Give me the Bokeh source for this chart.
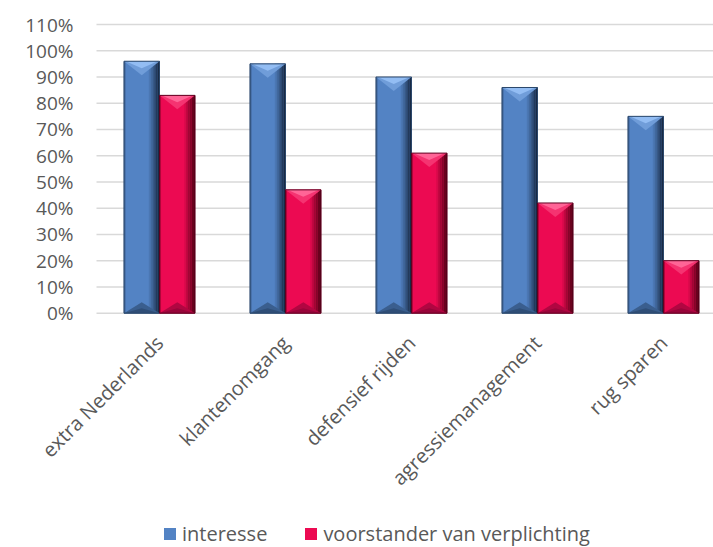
import math
from bokeh.plotting import figure
from bokeh.models import ColumnDataSource, Range1d, Legend, LegendItem
from bokeh.core.properties import value
from bokeh.embed import file_html
from bokeh.resources import INLINE

# ---------------- data ----------------
categories = ["extra Nederlands", "klantenomgang", "defensief rijden",
              "agressiemanagement", "rug sparen"]
interesse = [96, 95, 90, 86, 75]
voorstander = [83, 47, 61, 42, 20]
series_names = ["interesse", "voorstander van verplichting"]
y_ticks = [0, 10, 20, 30, 40, 50, 60, 70, 80, 90, 100, 110]
y_tick_labels = ["0%", "10%", "20%", "30%", "40%", "50%", "60%",
                 "70%", "80%", "90%", "100%", "110%"]

# ---------------- styling ----------------
FONT = "Open Sans"
TXT = "#595959"
GRID = "#D9D9D9"

def hex2rgb(h):
    h = h.lstrip("#")
    return tuple(int(h[i:i + 2], 16) for i in (0, 2, 4))

def blend(c1, c2, t):
    a, b = hex2rgb(c1), hex2rgb(c2)
    return "#%02x%02x%02x" % tuple(int(round(a[i] + (b[i] - a[i]) * t)) for i in range(3))

styles = [
    dict(face="#5383C4", dark="#14233A", top="#93BDF3", bottom="#2F4E77", outline="#2B476B"),
    dict(face="#EC0A52", dark="#40000E", top="#FF6597", bottom="#98053A", outline="#600020"),
]

# pixel geometry of the plotting area (whole canvas is the frame)
W, H = 713, 547
PLOT_LEFT = 96.0
ZERO_Y = 312.7
TOP_Y = 24.0
PX_PER_UNIT = (ZERO_Y - TOP_Y) / 110.0
CAT_PX = 126.0

x_start = -PLOT_LEFT / CAT_PX
x_end = (W - PLOT_LEFT) / CAT_PX
y_end = 110 + TOP_Y / PX_PER_UNIT
y_start = 110 - (H - TOP_Y) / PX_PER_UNIT

n = len(categories)
xc = [i + 0.5 for i in range(n)]
HW = 0.141          # half bar width (category units)
DT = 5.3            # top bevel depth (value units)
DB = 4.2            # bottom bevel depth (value units)

p = figure(width=W, height=H, output_backend="svg", toolbar_location=None,
           x_range=Range1d(x_start, x_end), y_range=Range1d(y_start, y_end),
           x_axis_location=None, y_axis_location=None,
           min_border_left=0, min_border_right=0, min_border_top=0,
           min_border_bottom=0)
p.outline_line_color = None
p.background_fill_color = "white"
p.border_fill_color = "white"
p.xgrid.grid_line_color = None
p.ygrid.grid_line_color = None

# horizontal gridlines (0% line doubles as category axis line)
p.segment(x0=[0] * len(y_ticks), x1=[x_end] * len(y_ticks), y0=y_ticks, y1=y_ticks,
          line_color=GRID, line_width=1.5)

# value labels
p.text(x=[-23 / CAT_PX] * len(y_ticks), y=y_ticks, text=y_tick_labels,
       text_align="right", text_baseline="middle",
       text_font=value(FONT), text_font_size="19px", text_color=TXT)

# category labels, rotated 45 degrees, ending under each category
lab_dx = 0 / CAT_PX
lab_dy = -26 / PX_PER_UNIT
p.text(x=[c + lab_dx for c in xc], y=[lab_dy] * n, text=categories,
       angle=math.pi / 4, text_align="right", text_baseline="middle",
       text_font=value(FONT), text_font_size="20px", text_color=TXT)

main_renderers = []
for s_idx, (vals, st) in enumerate(zip([interesse, voorstander], styles)):
    off = -HW if s_idx == 0 else HW
    centers = [c + off for c in xc]
    src = ColumnDataSource(dict(x=centers, top=vals))
    r = p.vbar(x="x", top="top", bottom=0, width=2 * HW, source=src,
               fill_color=st["face"], line_color=None)
    main_renderers.append(r)

    # right side shading strips
    nstrip = 6
    strip_w = (2 * HW) * 0.30 / nstrip
    for k in range(nstrip):
        t = 0.12 + 0.8 * (k / (nstrip - 1))
        xs_k = [c + HW - (nstrip - k - 0.5) * strip_w for c in centers]
        p.vbar(x=xs_k, top=vals, bottom=0, width=strip_w * 1.02,
               fill_color=blend(st["face"], st["dark"], t), line_color=None)
    # left thin strip
    p.vbar(x=[c - HW + 0.006 for c in centers], top=vals, bottom=0, width=0.012,
           fill_color=blend(st["face"], st["dark"], 0.35), line_color=None)

    # top bevel (two layers to mimic gradient)
    top_xs = [[c - HW, c + HW, c] for c in centers]
    top_ys = [[v, v, v - DT] for v in vals]
    p.patches(top_xs, top_ys, fill_color=blend(st["face"], st["top"], 0.45), line_color=None)
    top_ys2 = [[v, v, v - DT * 0.5] for v in vals]
    top_xs2 = [[c - HW * 0.9, c + HW * 0.9, c] for c in centers]
    p.patches(top_xs2, top_ys2, fill_color=st["top"], line_color=None)

    # bottom bevel
    bot_xs = [[c - HW, c + HW, c] for c in centers]
    bot_ys = [[0, 0, DB] for _ in vals]
    p.patches(bot_xs, bot_ys, fill_color=blend(st["face"], st["bottom"], 0.7), line_color=None)
    bot_ys2 = [[0, 0, DB * 0.45] for _ in vals]
    p.patches(bot_xs, bot_ys2, fill_color=st["bottom"], line_color=None)

    # outline
    p.vbar(x=centers, top=vals, bottom=0, width=2 * HW, fill_color=None,
           line_color=st["outline"], line_width=1)

legend = Legend(
    items=[LegendItem(label=series_names[0], renderers=[main_renderers[0]]),
           LegendItem(label=series_names[1], renderers=[main_renderers[1]])],
    orientation="horizontal", location=(162, 0), spacing=36, padding=0, margin=0,
    border_line_color=None, background_fill_alpha=0,
    glyph_width=15, glyph_height=15, label_standoff=5, label_height=20,
    label_text_font=FONT, label_text_font_size="20px", label_text_color=TXT)
p.add_layout(legend)

open("out.html", "w").write(file_html(p, INLINE))
